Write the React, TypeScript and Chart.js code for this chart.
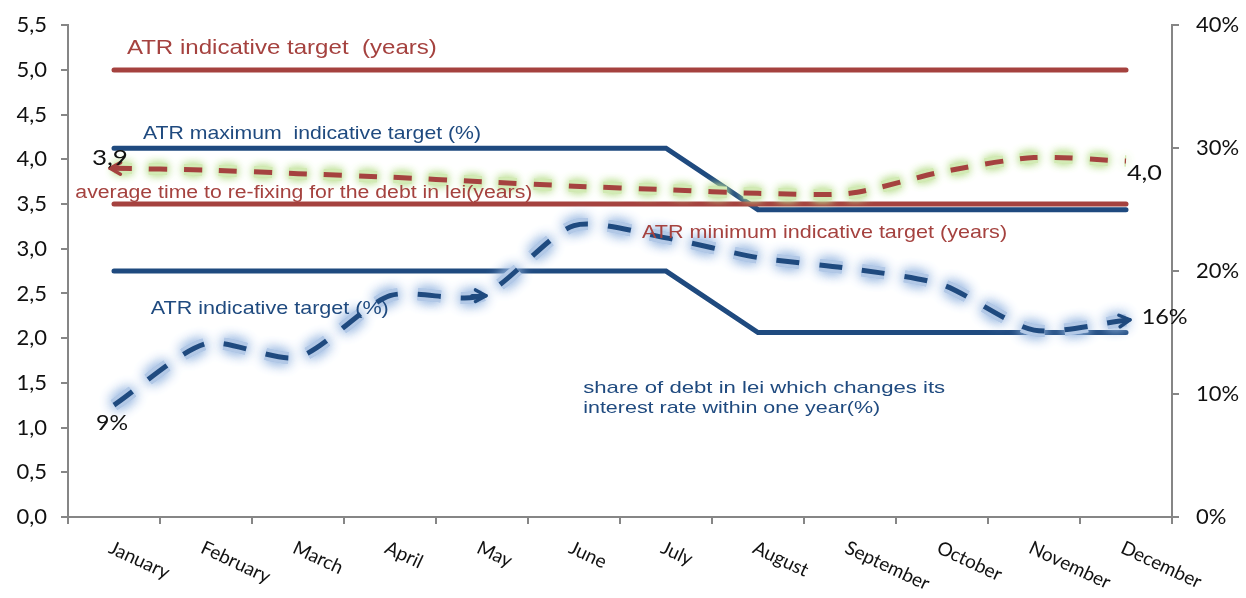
import React, { useEffect, useRef } from "react";
import { Chart, registerables } from "chart.js";

Chart.register(...registerables);

const months = [
  "January", "February", "March", "April", "May", "June",
  "July", "August", "September", "October", "November", "December",
];

// left axis (years)
const refixingYears = [3.9, 3.88, 3.84, 3.8, 3.75, 3.7, 3.66, 3.62, 3.62, 3.86, 4.02, 3.98];
const targetYears = [5.0, 5.0, 5.0, 5.0, 5.0, 5.0, 5.0, 5.0, 5.0, 5.0, 5.0, 5.0];
const minTargetYears = [3.5, 3.5, 3.5, 3.5, 3.5, 3.5, 3.5, 3.5, 3.5, 3.5, 3.5, 3.5];

// right axis (%)
const shareWithinYear = [9.1, 14.1, 13.0, 18.0, 18.0, 23.7, 22.7, 21.1, 20.2, 18.9, 15.2, 16.0];
const maxTargetPct = [30, 30, 30, 30, 30, 30, 30, 25, 25, 25, 25, 25];
const targetPct = [20, 20, 20, 20, 20, 20, 20, 15, 15, 15, 15, 15];

const leftTickMin = 0;
const leftTickMax = 5.5;
const leftTickStep = 0.5;
const rightTickMin = 0;
const rightTickMax = 40;
const rightTickStep = 10;

const RED = "#A5423F";
const BLUE = "#1F4A7F";
const GRAY = "#868686";
const SANS = "'Liberation Sans', Arial, sans-serif";

// text annotations, positioned in data coordinates (category index, left-axis value)
const annotations = [
  { text: "ATR indicative target  (years)", x: 0.14, y: 5.24, color: RED, size: 21, width: 310, family: SANS },
  { text: "ATR maximum  indicative target (%)", x: 0.315, y: 4.29, color: BLUE, size: 19, width: 338, family: SANS },
  { text: "3,9", x: -0.24, y: 4.02, color: "#111", size: 22, width: 36, family: "Lato, sans-serif" },
  { text: "average time to re-fixing for the debt in lei(years)", x: -0.42, y: 3.62, color: RED, size: 18, width: 457, family: SANS },
  { text: "ATR minimum indicative target (years)", x: 5.74, y: 3.175, color: RED, size: 19, width: 365, family: SANS },
  { text: "ATR indicative target (%)", x: 0.4, y: 2.325, color: BLUE, size: 19, width: 238, family: SANS },
  { text: "9%", x: -0.196, y: 1.05, color: "#111", size: 22, width: 32, family: "Lato, sans-serif" },
  { text: "share of debt in lei which changes its", x: 5.1, y: 1.44, color: BLUE, size: 17, width: 362, family: SANS },
  { text: "interest rate within one year(%)", x: 5.1, y: 1.21, color: BLUE, size: 17, width: 297, family: SANS },
  { text: "4,0", x: 11.01, y: 3.85, color: "#111", size: 22, width: 35, family: "Lato, sans-serif" },
  { text: "16%", x: 11.17, y: 2.24, color: "#111", size: 22, width: 46, family: "Lato, sans-serif" },
];

const overlayPlugin = {
  id: "overlay",
  beforeDatasetDraw(chart: any, args: any) {
    const ds: any = chart.data.datasets[args.index];
    if (ds.glowColor) {
      const ctx = chart.ctx;
      ctx.save();
      ctx.shadowColor = ds.glowColor;
      ctx.shadowBlur = ds.glowBlur || 10;
    }
  },
  afterDatasetDraw(chart: any, args: any) {
    const ds: any = chart.data.datasets[args.index];
    if (ds.glowColor) {
      if (ds.glowRepeat) {
        const meta = chart.getDatasetMeta(args.index);
        for (let k = 0; k < ds.glowRepeat; k++) meta.dataset.draw(chart.ctx, chart.chartArea);
      }
      chart.ctx.restore();
    }
    if (ds.arrows) {
      const meta = chart.getDatasetMeta(args.index);
      const ctx = chart.ctx;
      ctx.save();
      ctx.strokeStyle = ds.borderColor;
      ctx.lineWidth = 3.5;
      ctx.lineCap = "round";
      ctx.lineJoin = "round";
      for (const a of ds.arrows) {
        const p = meta.data[a.at];
        const q = meta.data[a.from];
        const ang = Math.atan2(p.y - q.y, p.x - q.x);
        const tipX = p.x + Math.cos(ang) * 4;
        const tipY = p.y + Math.sin(ang) * 4;
        const L = 12;
        ctx.beginPath();
        ctx.moveTo(tipX + Math.cos(ang + Math.PI - 0.5) * L, tipY + Math.sin(ang + Math.PI - 0.5) * L);
        ctx.lineTo(tipX, tipY);
        ctx.lineTo(tipX + Math.cos(ang + Math.PI + 0.5) * L, tipY + Math.sin(ang + Math.PI + 0.5) * L);
        ctx.stroke();
        ctx.beginPath();
        ctx.moveTo(tipX, tipY);
        ctx.lineTo(tipX - Math.cos(ang) * 14, tipY - Math.sin(ang) * 14);
        ctx.stroke();
      }
      ctx.restore();
    }
  },
  afterDraw(chart: any) {
    const ctx = chart.ctx;
    const xs = chart.scales.x;
    const ys = chart.scales.y;
    const area = chart.chartArea;
    // rotated month labels
    ctx.save();
    ctx.fillStyle = "#111";
    ctx.font = "19px Lato, sans-serif";
    ctx.textAlign = "left";
    ctx.textBaseline = "top";
    months.forEach((m, i) => {
      const px = xs.getPixelForValue(i);
      ctx.save();
      ctx.translate(px, area.bottom + 21);
      ctx.rotate((25 * Math.PI) / 180);
      ctx.fillText(m, 0, 0);
      ctx.restore();
    });
    ctx.restore();
    // annotations
    for (const a of annotations) {
      const px = xs.getPixelForValue(a.x);
      const py = ys.getPixelForValue(a.y);
      ctx.save();
      ctx.font = `${a.size}px ${a.family}`;
      ctx.fillStyle = a.color;
      ctx.textAlign = "left";
      ctx.textBaseline = "middle";
      const w = ctx.measureText(a.text).width;
      ctx.translate(px, py);
      ctx.scale(a.width / w, 1);
      ctx.fillText(a.text, 0, 0);
      ctx.restore();
    }
  },
};

const CANVAS_W = 1246;
const CANVAS_H = 603;
const CANVAS_SHIFT = -5;

export default function App() {
  const canvasRef = useRef<HTMLCanvasElement | null>(null);

  useEffect(() => {
    const canvas = canvasRef.current;
    if (!canvas) return;
    const dashedCommon = { tension: 0.25, pointRadius: 0, fill: false };
    const chart = new Chart(canvas, {
      type: "line",
      data: {
        labels: months,
        datasets: [
          {
            label: "share of debt in lei which changes its interest rate within one year(%)",
            data: shareWithinYear,
            yAxisID: "y1",
            borderColor: BLUE,
            borderWidth: 5,
            borderDash: [23, 20],
            ...dashedCommon,
            arrows: [{ at: 11, from: 10 }, { at: 4, from: 3 }],
          } as any,
          {
            label: "glow share",
            data: shareWithinYear,
            yAxisID: "y1",
            borderColor: "rgba(178,200,230,1)",
            borderWidth: 12,
            borderDash: [23, 20],
            ...dashedCommon,
            glowColor: "rgba(150,182,224,1)",
            glowBlur: 13,
            glowRepeat: 1,
          } as any,
          {
            label: "average time to re-fixing for the debt in lei(years)",
            data: refixingYears,
            yAxisID: "y",
            borderColor: RED,
            borderWidth: 5,
            borderDash: [18, 17],
            ...dashedCommon,
            arrows: [{ at: 0, from: 1 }],
          } as any,
          {
            label: "glow refix",
            data: refixingYears,
            yAxisID: "y",
            borderColor: "rgba(210,234,180,1)",
            borderWidth: 11,
            borderDash: [18, 17],
            ...dashedCommon,
            glowColor: "rgba(190,224,150,1)",
            glowBlur: 10,
            glowRepeat: 1,
          } as any,
          {
            label: "ATR indicative target (years)",
            data: targetYears,
            yAxisID: "y",
            borderColor: RED,
            borderWidth: 5,
            borderCapStyle: "round",
            pointRadius: 0,
            tension: 0,
          },
          {
            label: "ATR minimum indicative target (years)",
            data: minTargetYears,
            yAxisID: "y",
            borderColor: RED,
            borderWidth: 5,
            borderCapStyle: "round",
            pointRadius: 0,
            tension: 0,
          },
          {
            label: "ATR maximum indicative target (%)",
            data: maxTargetPct,
            yAxisID: "y1",
            borderColor: BLUE,
            borderWidth: 5,
            borderCapStyle: "round",
            pointRadius: 0,
            tension: 0,
          },
          {
            label: "ATR indicative target (%)",
            data: targetPct,
            yAxisID: "y1",
            borderColor: BLUE,
            borderWidth: 5,
            borderCapStyle: "round",
            pointRadius: 0,
            tension: 0,
          },
        ],
      },
      options: {
        responsive: false,
        animation: false,
        devicePixelRatio: 1,
        layout: { autoPadding: false, padding: { top: 20, left: 0, right: 0, bottom: 0 } },
        plugins: {
          legend: { display: false },
          tooltip: { enabled: false },
        },
        scales: {
          x: {
            type: "category",
            offset: true,
            grid: {
              offset: true,
              drawOnChartArea: false,
              drawTicks: true,
              tickLength: 7,
              color: GRAY,
              lineWidth: 2,
            },
            border: { color: GRAY, width: 2 },
            ticks: { color: "rgba(0,0,0,0)", maxRotation: 0, minRotation: 0, font: { size: 10 } },
            afterFit: (scale: any) => {
              scale.height = 81;
            },
          },
          y: {
            position: "left",
            min: leftTickMin,
            max: leftTickMax,
            ticks: {
              stepSize: leftTickStep,
              color: "#111",
              padding: 14,
              font: { family: "Lato, sans-serif", size: 22 },
              callback: (v: any) => Number(v).toFixed(1).replace(".", ","),
            },
            grid: { drawOnChartArea: false, tickLength: 7, color: GRAY, lineWidth: 2 },
            border: { color: GRAY, width: 2 },
            afterFit: (scale: any) => {
              scale.width = 68;
            },
          },
          y1: {
            position: "right",
            min: rightTickMin,
            max: rightTickMax,
            ticks: {
              stepSize: rightTickStep,
              color: "#111",
              padding: 17,
              font: { family: "Lato, sans-serif", size: 22 },
              callback: (v: any) => `${v}%`,
            },
            grid: { drawOnChartArea: false, tickLength: 7, color: GRAY, lineWidth: 2 },
            border: { color: GRAY, width: 2 },
            afterFit: (scale: any) => {
              scale.width = 74;
            },
          },
        },
      } as any,
      plugins: [overlayPlugin],
    });
    return () => chart.destroy();
  }, []);

  return (
    <div style={{ position: "absolute", left: 0, top: 0, width: 1246, height: 598, background: "#fff", overflow: "hidden" }}>
      <canvas
        ref={canvasRef}
        width={CANVAS_W}
        height={CANVAS_H}
        style={{ position: "absolute", left: 0, top: CANVAS_SHIFT, width: CANVAS_W, height: CANVAS_H }}
      />
    </div>
  );
}
